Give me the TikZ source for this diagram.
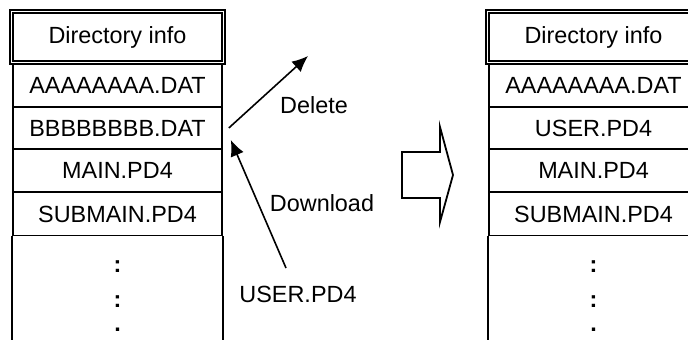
\documentclass[tikz,border=0pt]{standalone}
\usepackage{fontspec}
\setmainfont{Liberation Sans}
\usetikzlibrary{arrows.meta}
\begin{document}
\begin{tikzpicture}[x=0.5pt,y=-0.5pt,
    every node/.style={font=\fontsize{11.7}{14}\selectfont},
    headbox/.style={draw,double,line width=0.8pt,double distance=0.9pt,minimum width=106pt,minimum height=25.5pt,inner sep=0pt},
    rowbox/.style={draw,line width=0.8pt,minimum width=104.5pt,minimum height=21.5pt,inner sep=0pt},
    arr/.style={-{Latex[length=8pt,width=7pt]},line width=0.8pt}]
    \useasboundingbox (0,0) rectangle (688,340);
    \clip (0,0) rectangle (688,340);
    \coordinate (bot) at (0,346);
    % table before
    \node[headbox] (lh) at (117.5,37) {Directory info};
    \node[rowbox] (la) at (117.5,85.5) {AAAAAAAA.DAT};
    \node[rowbox] (lb) at (117.5,128) {BBBBBBBB.DAT};
    \node[rowbox] (lm) at (117.5,170.5) {MAIN.PD4};
    \node[rowbox] (ls) at (117.5,214) {SUBMAIN.PD4};
    \draw[line width=0.8pt] (ls.south west) -- (ls.south west |- bot);
    \draw[line width=0.8pt] (ls.south east) -- (ls.south east |- bot);
    \node (ld1) at (117.5,267) {\textbf{:}};
    \node (ld2) at (117.5,302) {\textbf{:}};
    \node (ld3) at (117.5,330) {\textbf{.}};
    % delete / download
    \coordinate (deltip) at (308,56);
    \draw[arr] ([xshift=3pt]lb.east) -- (deltip);
    \node (del) at (314,105) {Delete};
    \node (down) at (322,203) {Download};
    \node (user) at (298,294) {USER.PD4};
    \draw[arr] ([shift={(-12,-26)}]user.center) -- ([shift={(8,12)}]lb.east);
    % block arrow
    \draw[line width=0.9pt] (402,152) -- (440,152) -- (440,127) -- (453,175) -- (440,222) -- (440,198) -- (402,198) -- cycle;
    % table after
    \node[headbox] (rh) at (593.5,37) {Directory info};
    \node[rowbox] (ra) at (593.5,85.5) {AAAAAAAA.DAT};
    \node[rowbox] (ru) at (593.5,128) {USER.PD4};
    \node[rowbox] (rm) at (593.5,170.5) {MAIN.PD4};
    \node[rowbox] (rs) at (593.5,214) {SUBMAIN.PD4};
    \draw[line width=0.8pt] (rs.south west) -- (rs.south west |- bot);
    \draw[line width=0.8pt] (rs.south east) -- (rs.south east |- bot);
    \node (rd1) at (593.5,267) {\textbf{:}};
    \node (rd2) at (593.5,302) {\textbf{:}};
    \node (rd3) at (593.5,330) {\textbf{.}};
\end{tikzpicture}
\end{document}
